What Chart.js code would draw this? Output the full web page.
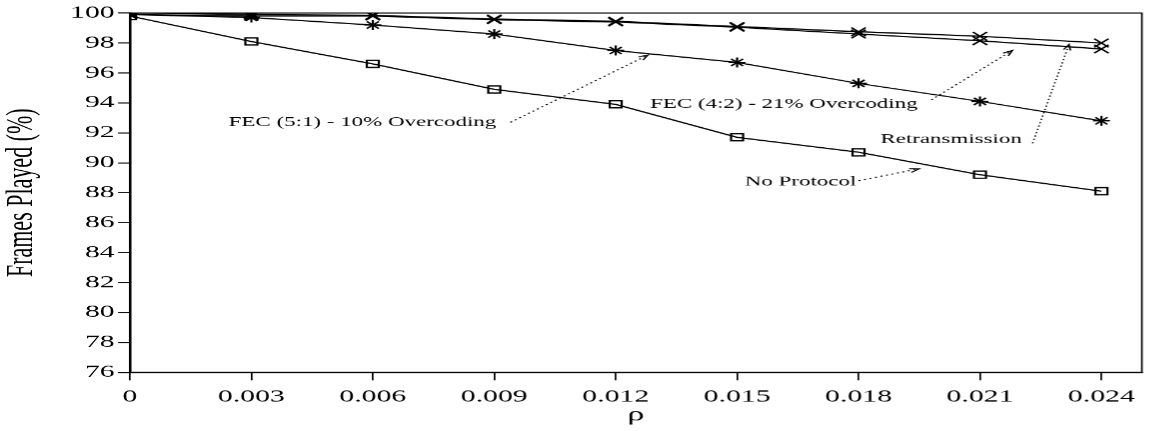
<!DOCTYPE html>
<html>
<head>
<meta charset="utf-8">
<script src="https://cdn.jsdelivr.net/npm/chart.js@4.4.0/dist/chart.umd.min.js"></script>
<style>
  html, body { margin: 0; padding: 0; background: #fff; overflow: hidden; }
  /* the source figure is stretched sideways, so draw narrow and stretch the box */
  #wrap { position: absolute; left: 0; top: 0; width: 679.41px; height: 431px;
          transform: scaleX(1.7); transform-origin: 0 0; }
</style>
</head>
<body>
<div id="wrap"><canvas id="myChart"></canvas></div>
<script>
const STRETCH = 1.7;

// x values (rho) and tick labels
const rho = [0, 0.003, 0.006, 0.009, 0.012, 0.015, 0.018, 0.021, 0.024];
const xLabels = ['0', '0.003', '0.006', '0.009', '0.012', '0.015', '0.018', '0.021', '0.024'];

// frames played (%) per protocol
const noProtocol = [99.8, 98.1, 96.6, 94.9, 93.9, 91.7, 90.7, 89.2, 88.1];
const fec51 = [99.9, 99.7, 99.2, 98.6, 97.5, 96.7, 95.3, 94.1, 92.8];
const fec42 = [99.9, 99.8, 99.8, 99.55, 99.4, 99.05, 98.6, 98.15, 97.6];
const retrans = [100, 99.9, 99.85, 99.6, 99.45, 99.1, 98.75, 98.45, 98.0];

// text labels with dotted arrows, in data units
const notes = [
  { text: 'FEC (5:1) - 10% Overcoding', at: [0.00244, 92.7], from: [0.0094, 92.7], to: [0.0128, 97.2] },
  { text: 'FEC (4:2) - 21% Overcoding', at: [0.01285, 93.9], from: [0.0198, 94.2], to: [0.0218, 97.5] },
  { text: 'Retransmission', at: [0.01854, 91.55], from: [0.0223, 91.3], to: [0.0232, 97.9] },
  { text: 'No Protocol', at: [0.01519, 88.7], from: [0.018, 88.8], to: [0.0195, 89.6] }
];

const serif = '"Liberation Serif", "Times New Roman", serif';

function pts(ys) {
  return rho.map((x, i) => ({ x: x, y: ys[i] }));
}

function series(label, ys, style, radius) {
  return {
    label: label,
    data: pts(ys),
    borderColor: '#000',
    borderWidth: 1.2,
    pointStyle: style,
    pointRadius: radius,
    pointBorderColor: '#000',
    pointBackgroundColor: 'rgba(0,0,0,0)',
    pointBorderWidth: 1.3,
    tension: 0,
    fill: false
  };
}

const frame = {
  id: 'frame',
  afterDraw(chart) {
    const { ctx, chartArea: a, scales: { x, y } } = chart;
    ctx.save();
    ctx.strokeStyle = '#000';
    ctx.lineWidth = 1;
    ctx.strokeRect(a.left, a.top, a.right - a.left, a.bottom - a.top);

    ctx.font = '13.5px ' + serif;
    ctx.fillStyle = '#000';
    ctx.textBaseline = 'middle';
    ctx.textAlign = 'left';
    notes.forEach(n => {
      ctx.fillText(n.text, x.getPixelForValue(n.at[0]), y.getPixelForValue(n.at[1]));
      const x0 = x.getPixelForValue(n.from[0]), y0 = y.getPixelForValue(n.from[1]);
      const x1 = x.getPixelForValue(n.to[0]), y1 = y.getPixelForValue(n.to[1]);
      ctx.lineWidth = 1;
      ctx.setLineDash([1.2, 2.2]);
      ctx.beginPath();
      ctx.moveTo(x0, y0);
      ctx.lineTo(x1, y1);
      ctx.stroke();
      ctx.setLineDash([]);
      const ang = Math.atan2(y1 - y0, x1 - x0);
      const len = 6;
      ctx.beginPath();
      ctx.moveTo(x1 - len * Math.cos(ang - 0.35), y1 - len * Math.sin(ang - 0.35));
      ctx.lineTo(x1, y1);
      ctx.lineTo(x1 - len * Math.cos(ang + 0.35), y1 - len * Math.sin(ang + 0.35));
      ctx.stroke();
    });
    ctx.restore();
  }
};

var ctx = document.getElementById('myChart').getContext('2d');
var chart = new Chart(ctx, { //eslint-disable-line
  type: 'line',
  data: {
    datasets: [
      series('Retransmission', retrans, 'crossRot', 6),
      series('FEC (4:2) - 21% Overcoding', fec42, 'crossRot', 6),
      series('FEC (5:1) - 10% Overcoding', fec51, 'star', 5),
      series('No Protocol', noProtocol, 'rect', 5)
    ]
  },
  options: {
    responsive: true,
    maintainAspectRatio: false,
    devicePixelRatio: STRETCH,
    animation: false,
    layout: { padding: { top: 13, right: 4, left: 0, bottom: 0 } },
    plugins: { legend: { display: false }, tooltip: { enabled: false } },
    scales: {
      x: {
        type: 'linear',
        min: 0,
        max: 0.025,
        afterBuildTicks: s => { s.ticks = rho.map(v => ({ value: v })); },
        afterFit: s => { s.height = 59; },
        ticks: {
          callback: (v, i) => xLabels[i],
          font: { family: serif, size: 17.5 },
          color: '#000',
          padding: 6,
          maxRotation: 0,
          autoSkip: false
        },
        grid: { drawOnChartArea: false, drawTicks: true, tickLength: 8, color: '#000' },
        border: { display: true, color: '#000', width: 1 },
        title: { display: true, text: 'ρ', font: { family: serif, size: 20 }, color: '#000', padding: { top: 0, bottom: 4 } }
      },
      y: {
        min: 76,
        max: 100,
        afterFit: s => { s.width = 130 / STRETCH; },
        ticks: {
          stepSize: 2,
          font: { family: serif, size: 17.5 },
          color: '#000',
          padding: 2
        },
        grid: { drawOnChartArea: false, drawTicks: true, tickLength: 7, color: '#000' },
        border: { display: true, color: '#000', width: 1.5 },
        title: { display: true, text: 'Frames Played (%)', font: { family: serif, size: 22 }, color: '#000', padding: { top: 0, bottom: 0 } }
      }
    }
  },
  plugins: [frame]
});
</script>
</body>
</html>
